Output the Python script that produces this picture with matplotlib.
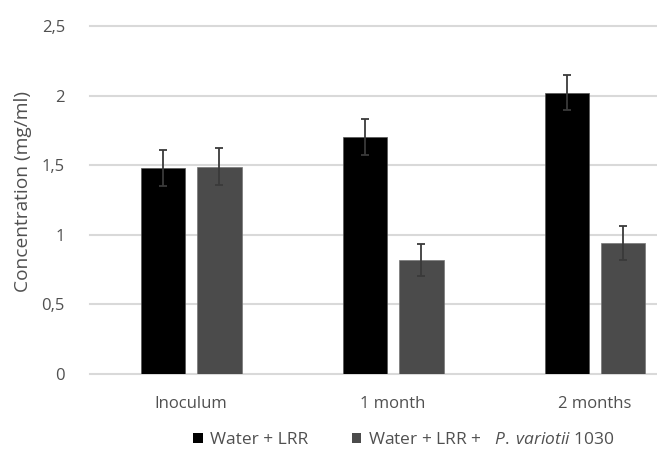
import matplotlib.pyplot as plt
import numpy as np
from matplotlib.patches import Patch

plt.rcParams['font.family'] = ['Open Sans', 'DejaVu Sans']
plt.rcParams['mathtext.fontset'] = 'custom'
plt.rcParams['mathtext.rm'] = 'Open Sans'
plt.rcParams['mathtext.it'] = 'Open Sans:italic'

categories = ["Inoculum", "1 month", "2 months"]
water_lrr = [1.48, 1.70, 2.02]
water_lrr_err = [0.13, 0.13, 0.125]
water_lrr_pv = [1.49, 0.82, 0.94]
water_lrr_pv_err = [0.135, 0.115, 0.12]
y_ticks = [0, 0.5, 1, 1.5, 2, 2.5]
y_tick_labels = ["0", "0,5", "1", "1,5", "2", "2,5"]

text_color = '#505050'
grid_color = '#d9d9d9'

fig = plt.figure(figsize=(6.57, 4.57), dpi=100)
ax = fig.add_axes([90 / 657, 1 - 374 / 457, 606 / 657, 348 / 457])

x = np.arange(len(categories))
w = 0.218
off = 0.141
err_kw = dict(ecolor='#3a3a3a', elinewidth=1.3, capsize=3, capthick=1.3)
ax.bar(x - off, water_lrr, w, yerr=water_lrr_err, color='#000000',
       edgecolor='#555555', linewidth=0.5, error_kw=err_kw, zorder=3)
ax.bar(x + off, water_lrr_pv, w, yerr=water_lrr_pv_err, color='#4b4b4b',
       edgecolor='#777777', linewidth=0.5, error_kw=err_kw, zorder=3)

ax.set_xlim(-0.5, 2.5)
ax.set_ylim(0, 2.5)
ax.set_yticks(y_ticks)
ax.set_yticklabels(y_tick_labels)
ax.set_xticks(x)
ax.set_xticklabels(categories)
ax.tick_params(length=0, labelsize=12, colors=text_color)
ax.tick_params(axis='y', pad=18)
ax.tick_params(axis='x', pad=16)
ax.grid(axis='y', color=grid_color, linewidth=1.5, zorder=0)
for s in ax.spines.values():
    s.set_visible(False)
for gl in ax.get_ygridlines():
    gl.set_clip_on(False)

fig.text(23 / 657, 1 - 192 / 457, "Concentration (mg/ml)", rotation=90,
         ha='center', va='center', fontsize=13.8, color=text_color)

handles = [Patch(facecolor='#000000'), Patch(facecolor='#4b4b4b')]
labels = ["Water + LRR", r"Water + LRR +   $\mathit{P.\;variotii}$ 1030"]
leg = fig.legend(handles, labels, loc='center', ncol=2,
                 bbox_to_anchor=(404 / 657, 1 - 440 / 457), frameon=False,
                 fontsize=12.5, handlelength=0.55, handleheight=0.55,
                 handletextpad=0.4, columnspacing=2.5)
for t in leg.get_texts():
    t.set_color(text_color)

fig.savefig('out.png', dpi=100)
